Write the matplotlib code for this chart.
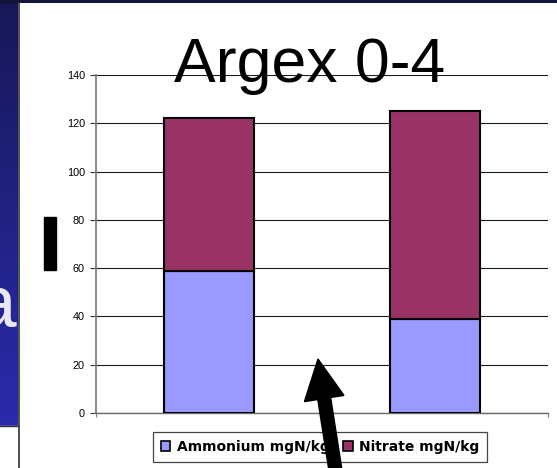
import numpy as np
import matplotlib.pyplot as plt
from matplotlib.patches import Rectangle, Polygon, Patch

# values (mgN/kg)
samples = ["A", "B"]
ammonium = [59, 39]
nitrate = [63, 86]
y_ticks = [0, 20, 40, 60, 80, 100, 120, 140]

W, H = 557, 468
fig = plt.figure(figsize=(W / 100, H / 100), dpi=100)

# background in pixel coordinates (slide behind the chart)
bg = fig.add_axes([0, 0, 1, 1], zorder=-5)
bg.set_xlim(0, W)
bg.set_ylim(H, 0)
bg.axis('off')
grad = np.linspace(0, 1, 256).reshape(-1, 1)
top_c = np.array([0x18, 0x18, 0x58]) / 255
bot_c = np.array([0x2c, 0x2c, 0xb4]) / 255
img = top_c + grad[..., None] * (bot_c - top_c)
img = np.repeat(img, 2, axis=1)
bg.imshow(img, extent=[0, W, H, 0], aspect='auto', zorder=0)
bg.text(17, 328, "a", color='#e8e8f4', fontsize=54, family='Liberation Sans',
        ha='right', va='baseline', zorder=1)
bg.add_patch(Rectangle((0, 0), W, 3, color='#13133c', zorder=2))
bg.add_patch(Rectangle((0, 426), 18, H - 426, color='white', zorder=2))
bg.plot([0, 18], [426, 426], color='#333333', lw=1, zorder=3)
bg.add_patch(Rectangle((18, 3), W - 18, H - 3, facecolor='white',
                       edgecolor='none', zorder=2))
bg.plot([18.5, 18.5], [3, H], color='#333333', lw=1.2, zorder=3)
bg.add_patch(Rectangle((44, 217), 12, 53, color='black', zorder=3))

# chart
ax = fig.add_axes([96 / W, 1 - 413 / H, (548 - 96) / W, (413 - 75) / H])
ax.patch.set_alpha(0)
x = np.arange(len(samples))
ax.bar(x, ammonium, width=0.4, color='#9999FF', edgecolor='black',
       linewidth=1.5, label='Ammonium mgN/kg', zorder=3)
ax.bar(x, nitrate, width=0.4, bottom=ammonium, color='#993366',
       edgecolor='black', linewidth=1.5, label='Nitrate mgN/kg', zorder=3)
ax.set_xlim(-0.5, 1.5)
ax.set_ylim(0, 140)
ax.set_yticks(y_ticks)
ax.set_xticks([-0.5, 1.5])
ax.set_xticklabels([])
ax.yaxis.grid(True, color='#1a1a1a', lw=0.8)
ax.set_axisbelow(True)
for s in ['top', 'right']:
    ax.spines[s].set_visible(False)
ax.spines['left'].set_color('#808080')
ax.spines['left'].set_linewidth(1.3)
ax.spines['bottom'].set_color('#6a6a6a')
ax.spines['bottom'].set_linewidth(1.0)
ax.tick_params(axis='y', direction='out', length=4, width=0.8, color='#333333',
               pad=4, labelsize=7.8)
ax.tick_params(axis='x', direction='out', length=3, width=0.8, color='#808080')
for lbl in ax.get_yticklabels():
    lbl.set_family('Liberation Sans')

fig.text(310 / W, 1 - 82 / H, "Argex 0-4", fontsize=45, family='Liberation Sans',
         ha='center', va='baseline')

handles = [Patch(facecolor='#9999FF', edgecolor='black', lw=1.2),
           Patch(facecolor='#993366', edgecolor='black', lw=1.2)]
leg = ax.legend(handles, ['Ammonium mgN/kg', 'Nitrate mgN/kg'], ncol=2,
                loc='center', bbox_to_anchor=(320 / W, 1 - 447 / H),
                bbox_transform=fig.transFigure, fancybox=False, shadow=False,
                framealpha=1, edgecolor='#444444', handlelength=0.68,
                handleheight=0.68, handletextpad=0.45, columnspacing=1.0,
                borderpad=0.55, prop={'family': 'DejaVu Sans', 'weight': 'bold',
                                      'size': 10})
leg.get_frame().set_linewidth(0.9)

# black arrow pointing up at the gap between the bars
tip = np.array([318.0, 359.0])
tail = np.array([337.0, 480.0])
u = (tip - tail) / np.linalg.norm(tip - tail)
n = np.array([-u[1], u[0]])
head_len, head_half, shaft_half = 40, 20, 6.5
base = tip - u * head_len
pts = [tail + n * shaft_half, base + n * shaft_half, base + n * head_half, tip,
       base - n * head_half, base - n * shaft_half, tail - n * shaft_half]
fig.add_artist(Polygon(pts, closed=True, color='black', transform=bg.transData,
                       zorder=10))

fig.savefig('out.png', dpi=100)
